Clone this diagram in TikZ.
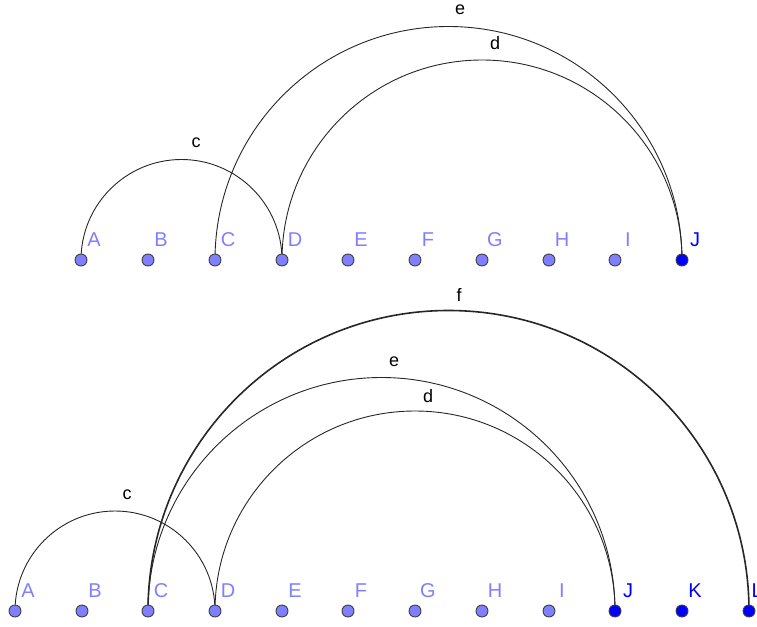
\documentclass[tikz,border=0pt]{standalone}
\usepackage{fontspec}
\setmainfont{Liberation Sans}
\begin{document}
\begin{tikzpicture}[x=1pt,y=-1pt,
  freept/.style={circle,inner sep=0pt,minimum size=12pt,fill=ptfree,draw=black!75,line width=0.9pt},
  deppt/.style={circle,inner sep=0pt,minimum size=12pt,fill=ptdep,draw=black!75,line width=0.9pt},
  freelab/.style={text=ptfree,font=\fontsize{20}{20}\selectfont,inner sep=0pt},
  deplab/.style={text=ptdep,font=\fontsize{20}{20}\selectfont,inner sep=0pt},
  arcline/.style={draw=black!85,line width=0.9pt},
  thickarc/.style={draw=black!85,line width=1.6pt},
  arclab/.style={font=\fontsize{18}{18}\selectfont,inner sep=0pt}]
\definecolor{ptfree}{HTML}{7F7FFF}
\definecolor{ptdep}{HTML}{0000FF}
\useasboundingbox (0,0) rectangle (757,626);
% top row points
\foreach \n/\x in {A/81,B/148,C/215,D/282,E/348,F/415,G/482,H/549,I/615}{
  \coordinate (t\n) at (\x,260);
}
\coordinate (tJ) at (682,260);
% bottom row points
\foreach \n/\x in {A/15,B/82,C/148,D/215,E/282,F/348,G/415,H/482,I/549}{
  \coordinate (b\n) at (\x,611);
}
\coordinate (bJ) at (615,611);
\coordinate (bK) at (682,611);
\coordinate (bL) at (749,611);
% top arcs
\draw[arcline] (tA) arc[start angle=180,end angle=360,radius=100.5];
\draw[arcline] (tC) arc[start angle=180,end angle=360,radius=233.5];
\draw[arcline] (tD) arc[start angle=180,end angle=360,radius=200];
% bottom arcs
\draw[arcline] (bA) arc[start angle=180,end angle=360,radius=100];
\draw[arcline] (bC) arc[start angle=180,end angle=360,radius=233.5];
\draw[arcline] (bD) arc[start angle=180,end angle=360,radius=200];
\draw[thickarc] (bC) arc[start angle=180,end angle=360,radius=300.5];
% arc labels
\node[arclab] (lte) at (460,10) {e};
\node[arclab] (ltd) at (495,43) {d};
\node[arclab] (ltc) at (196,143) {c};
\node[arclab] (lbf) at (459,295) {f};
\node[arclab] (lbe) at (394,362) {e};
\node[arclab] (lbd) at (428,396) {d};
\node[arclab] (lbc) at (127,495) {c};
% top dots and labels
\foreach \n in {A,B,C,D,E,F,G,H,I}{
  \node[freept] (dt\n) at (t\n) {};
  \node[freelab] (nt\n) at ([shift={(13,-20)}]t\n) {\n};
}
\node[deppt] (dtJ) at (tJ) {};
\node[deplab] (ntJ) at ([shift={(13,-20)}]tJ) {J};
% bottom dots and labels
\foreach \n in {A,B,C,D,E,F,G,H,I}{
  \node[freept] (db\n) at (b\n) {};
  \node[freelab] (nb\n) at ([shift={(13,-20)}]b\n) {\n};
}
\foreach \n in {J,K}{
  \node[deppt] (db\n) at (b\n) {};
  \node[deplab] (nb\n) at ([shift={(13,-20)}]b\n) {\n};
}
\node[deppt] (dbL) at (bL) {};
\node[deplab,anchor=west] (nbL) at ([shift={(2.5,-20)}]bL) {L};
\end{tikzpicture}
\end{document}
